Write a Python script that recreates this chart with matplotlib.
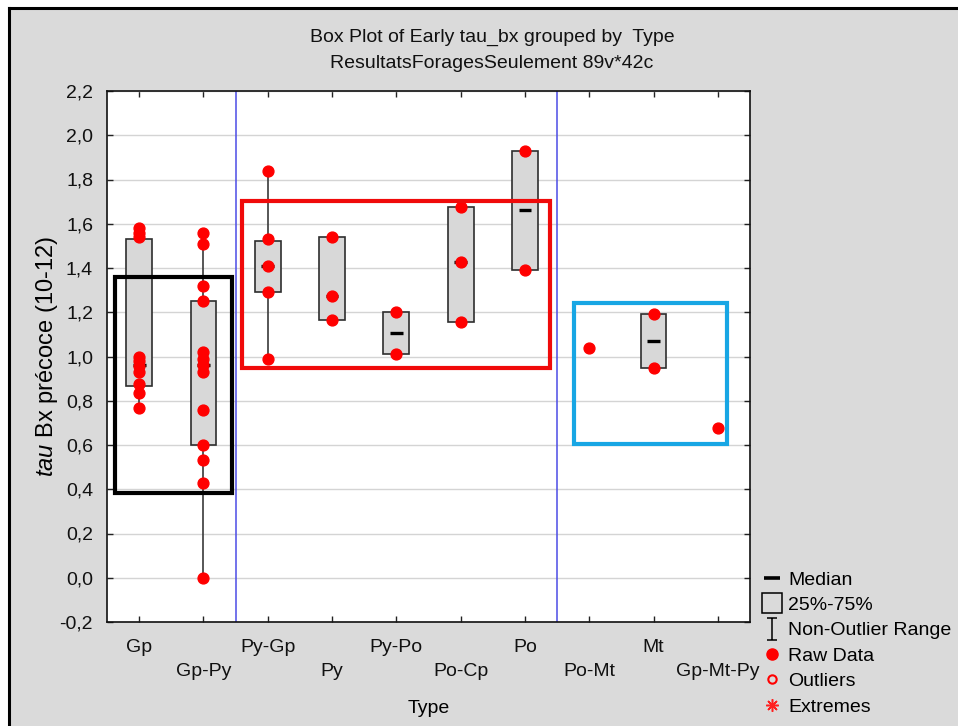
import matplotlib
matplotlib.use("Agg")
import matplotlib.pyplot as plt
import numpy as np
from matplotlib.lines import Line2D
from matplotlib.patches import Rectangle
from matplotlib.path import Path
from matplotlib.ticker import FuncFormatter, MultipleLocator

plt.rcParams['font.family'] = ['Liberation Sans', 'DejaVu Sans']
plt.rcParams['mathtext.fontset'] = 'custom'
plt.rcParams['mathtext.rm'] = 'Liberation Sans'
plt.rcParams['mathtext.it'] = 'Liberation Sans:italic'

# ---- data -------------------------------------------------------------
types = ["Gp", "Gp-Py", "Py-Gp", "Py", "Py-Po", "Po-Cp", "Po", "Po-Mt", "Mt", "Gp-Mt-Py"]

raw_values = {
    "Gp":       [1.58, 1.56, 1.54, 1.00, 0.98, 0.955, 0.93, 0.875, 0.835, 0.765],
    "Gp-Py":    [1.56, 1.51, 1.32, 1.25, 1.02, 0.99, 0.96, 0.93, 0.76, 0.60, 0.53, 0.43, 0.0],
    "Py-Gp":    [1.84, 1.53, 1.41, 1.29, 0.99],
    "Py":       [1.54, 1.275, 1.165],
    "Py-Po":    [1.20, 1.01],
    "Po-Cp":    [1.675, 1.425, 1.155],
    "Po":       [1.93, 1.39],
    "Po-Mt":    [1.04],
    "Mt":       [1.19, 0.95],
    "Gp-Mt-Py": [0.675],
}

# box statistics per type (None where a type has a single observation)
q1      = [0.865, 0.60, 1.29, 1.165, 1.01, 1.155, 1.39, None, 0.95, None]
median  = [0.96, 0.96, 1.41, 1.275, 1.105, 1.425, 1.66, None, 1.07, None]
q3      = [1.53, 1.25, 1.52, 1.54, 1.20, 1.675, 1.93, None, 1.19, None]
whis_lo = [0.765, 0.0, 0.99, 1.165, 1.01, 1.155, 1.39, None, 0.95, None]
whis_hi = [1.58, 1.56, 1.84, 1.54, 1.20, 1.675, 1.93, None, 1.19, None]

y_ticks = np.round(np.arange(-0.2, 2.21, 0.2), 1)

# ---- figure -----------------------------------------------------------
fig = plt.figure(figsize=(9.58, 7.26), dpi=100, facecolor="white")
W, H = 958, 726

# grey window panel with a dark frame on top and left
fig.patches.append(Rectangle((9 / W, 0), 1, 1 - 8 / H, transform=fig.transFigure,
                             facecolor="#DADADA", edgecolor="none", zorder=-10))
fig.add_artist(Line2D([9 / W, 1], [1 - 8 / H, 1 - 8 / H], transform=fig.transFigure,
                      color="black", lw=2.2))
fig.add_artist(Line2D([9 / W, 9 / W], [0, 1 - 8 / H], transform=fig.transFigure,
                      color="black", lw=2.2))

ax = fig.add_axes([107 / W, 1 - 622 / H, (750 - 107) / W, (622 - 91) / H])
ax.set_facecolor("white")

positions = np.arange(1, len(types) + 1)

# horizontal grid
ax.set_ylim(-0.2, 2.2)
ax.set_xlim(0.5, len(types) + 0.5)
ax.yaxis.set_major_locator(MultipleLocator(0.2))
ax.yaxis.grid(True, color="#D4D4D4", lw=1.0, zorder=0)
ax.set_axisbelow(True)

# group separators
for xs in (2.5, 7.5):
    ax.axvline(xs, color="#4B4BE6", lw=1.1, zorder=1)

# boxes
stats, pos_box = [], []
for i, t in enumerate(types):
    if q1[i] is None:
        continue
    stats.append(dict(q1=q1[i], med=median[i], q3=q3[i],
                      whislo=whis_lo[i], whishi=whis_hi[i], fliers=[]))
    pos_box.append(positions[i])

parts = ax.bxp(stats, positions=pos_box, widths=0.4, patch_artist=True, showcaps=False,
               showfliers=False,
               boxprops=dict(facecolor="#D8D8D8", edgecolor="#2E2E2E", lw=1.2),
               whiskerprops=dict(color="#3A3A3A", lw=1.2),
               medianprops=dict(color="black", lw=2.4, solid_capstyle="butt"),
               manage_ticks=False, zorder=2)

# median drawn as a short dash in the middle of each box
for p, med_line in zip(pos_box, parts["medians"]):
    med_line.set_xdata([p - 0.1, p + 0.1])

# raw data points
for i, t in enumerate(types):
    vals = raw_values[t]
    ax.plot(np.full(len(vals), positions[i]), vals, linestyle="none", marker="o",
            markersize=7.8, color="#FF0000", markeredgecolor="#FF0000", zorder=4)

# highlighted groups
groups = [((0.62, 0.383), (2.44, 1.359), "black"),
          ((2.595, 0.948), (7.39, 1.704), "#F00A0A"),
          ((7.76, 0.606), (10.15, 1.242), "#18A6E4")]
for (x0, y0), (x1, y1), col in groups:
    ax.add_patch(Rectangle((x0, y0), x1 - x0, y1 - y0, fill=False, edgecolor=col,
                           lw=3.0, zorder=5, clip_on=False))

# axes cosmetics
ax.set_yticks(y_ticks)
ax.yaxis.set_major_formatter(FuncFormatter(lambda v, p: f"{v:.1f}".replace(".", ",").replace("-0,0", "0,0")))
ax.set_xticks(positions)
ax.set_xticklabels([t if i % 2 == 0 else "\n" + t for i, t in enumerate(types)],
                   linespacing=1.58)
ax.tick_params(axis="both", direction="in", length=4.5, width=1.0, color="#222222",
               top=True, right=True, labelsize=14, labelcolor="#111111")
ax.tick_params(axis="x", pad=12)
ax.tick_params(axis="y", pad=10)
for sp in ax.spines.values():
    sp.set_color("#111111")
    sp.set_linewidth(1.2)

ax.set_xlabel("Type", fontsize=14, labelpad=14.5)
ax.set_ylabel(r"$\it{tau}$ Bx précoce (10-12)", fontsize=17)
ax.yaxis.set_label_coords(-0.073, 0.5)

# titles
fig.text(492 / W, 1 - 37 / H, "Box Plot of Early tau_bx grouped by  Type",
         ha="center", va="center", fontsize=14, color="#111111")
fig.text(492 / W, 1 - 64 / H, "ResultatsForagesSeulement 89v*42c",
         ha="center", va="center", fontsize=14, color="#111111")

# legend
whisker_marker = Path([(-0.45, 1), (0.45, 1), (0, 1), (0, -1), (-0.45, -1), (0.45, -1)],
                      [Path.MOVETO, Path.LINETO, Path.MOVETO, Path.LINETO,
                       Path.MOVETO, Path.LINETO])
handles = [
    Line2D([], [], linestyle="none", marker="_", markersize=11, markeredgewidth=2.6,
           color="black"),
    Line2D([], [], linestyle="none", marker="s", markersize=15, markerfacecolor="none",
           markeredgecolor="black", markeredgewidth=1.1),
    Line2D([], [], linestyle="none", marker=whisker_marker, markersize=16,
           markeredgewidth=1.1, color="black"),
    Line2D([], [], linestyle="none", marker="o", markersize=8, color="#FF0000"),
    Line2D([], [], linestyle="none", marker="o", markersize=6, markerfacecolor="none",
           markeredgecolor="#FF0000", markeredgewidth=1.5),
    Line2D([], [], linestyle="none", marker=(8, 2, 0), markersize=9,
           markeredgewidth=1.1, color="#FF2020"),
]
labels = ["Median", "25%-75%", "Non-Outlier Range", "Raw Data", "Outliers", "Extremes"]
fig.legend(handles, labels, loc="upper left", bbox_to_anchor=(762 / W, 1 - 571 / H),
           frameon=False, fontsize=14, handlelength=1.0, handletextpad=0.35,
           labelspacing=0.4, borderpad=0, borderaxespad=0)

fig.savefig("out.png", dpi=100, facecolor=fig.get_facecolor())
